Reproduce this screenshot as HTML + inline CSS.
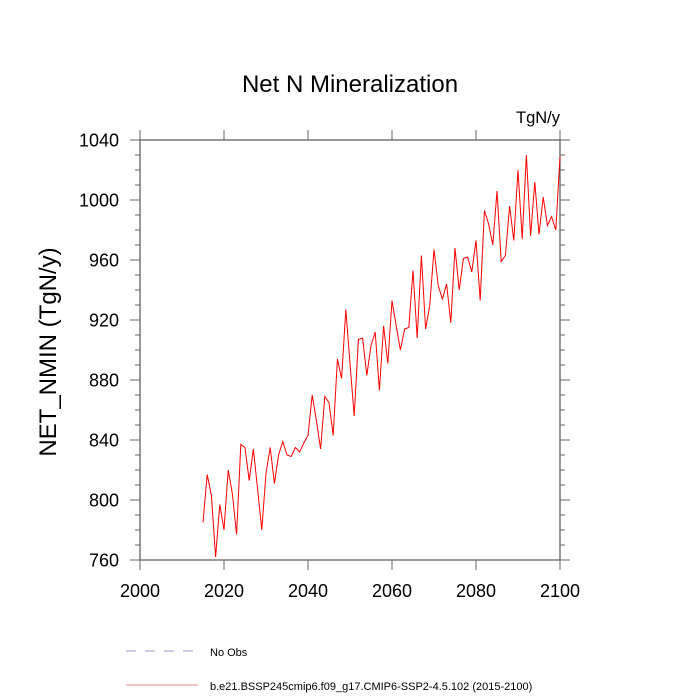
<!DOCTYPE html>
<html><head><meta charset="utf-8"><style>
body{margin:0;background:#fff}
svg{display:block;font-family:"Liberation Sans",sans-serif}
</style></head><body>
<svg id="chart" width="700" height="700">
<text x="350" y="92" font-size="24" text-anchor="middle">Net N Mineralization</text>
<text x="560" y="123" font-size="16.5" text-anchor="end">TgN/y</text>
<text transform="translate(56,352) rotate(-90)" font-size="24" text-anchor="middle">NET_NMIN  (TgN/y)</text>
<g id="axes"></g>
<g id="series"></g>
<g>
<line x1="126" y1="651" x2="198" y2="651" stroke="#9999cc" stroke-width="1" stroke-dasharray="10,9"/>
<text x="210" y="656" font-size="11">No Obs</text>
<line x1="126" y1="685" x2="198" y2="685" stroke="#ee8888" stroke-width="1"/>
<text x="210" y="690" font-size="11">b.e21.BSSP245cmip6.f09_g17.CMIP6-SSP2-4.5.102 (2015-2100)</text>
</g>
</svg>
<script>
const years=[];for(let y=2015;y<=2100;y++)years.push(y);
const values=[785,817,803,762,797,780,820,804,777,837,835,813,834,807,780,818,835,811,830,839,830,829,835,832,838,843,870,853,834,869,865,843,894,881,927,891,856,907,908,883,903,912,873,916,891,933,916,900,914,915,953,908,963,914,930,967,943,934,944,918,968,940,961,962,952,973,933,993,984,970,1006,959,963,996,973,1020,974,1030,976,1012,977,1002,983,989,980,1029];
const xTicks=[2000,2020,2040,2060,2080,2100];
const yTicks=[760,800,840,880,920,960,1000,1040];
const X0=140,X1=560,Y0=560,Y1=140;
const xs=v=>X0+(v-2000)/100*(X1-X0);
const ys=v=>Y0-(v-760)/280*(Y0-Y1);
const NS='http://www.w3.org/2000/svg';
const ax=document.getElementById('axes');
function mk(t,a,p){const e=document.createElementNS(NS,t);for(const k in a)e.setAttribute(k,a[k]);p.appendChild(e);return e;}
const frame=mk('rect',{x:X0,y:Y1,width:X1-X0,height:Y0-Y1,fill:'none',stroke:'#555','stroke-width':1.2},ax);


for(let v=760;v<=1040;v+=10){const y=ys(v);const major=(v-760)%40===0;const L=major?10:5;
mk('line',{x1:X0-L,y1:y,x2:X0,y2:y,stroke:'#666'},ax);
mk('line',{x1:X1,y1:y,x2:X1+L,y2:y,stroke:'#666'},ax);}
yTicks.forEach(v=>{const t=mk('text',{x:X0-21,y:ys(v)+6.5,'font-size':18,'text-anchor':'end'},ax);t.textContent=v;

});
xTicks.forEach(v=>{const x=xs(v);
mk('line',{x1:x,y1:Y0,x2:x,y2:Y0+10,stroke:'#666'},ax);
mk('line',{x1:x,y1:Y1-10,x2:x,y2:Y1,stroke:'#666'},ax);
const t=mk('text',{x:x,y:Y0+37,'font-size':18,'text-anchor':'middle'},ax);t.textContent=v;

});
const pts=years.map((y,i)=>xs(y).toFixed(1)+','+ys(values[i]).toFixed(1)).join(' ');
const pl=mk('polyline',{points:pts,fill:'none',stroke:'#ff0000','stroke-width':1},document.getElementById('series'));


</script>
</body></html>
